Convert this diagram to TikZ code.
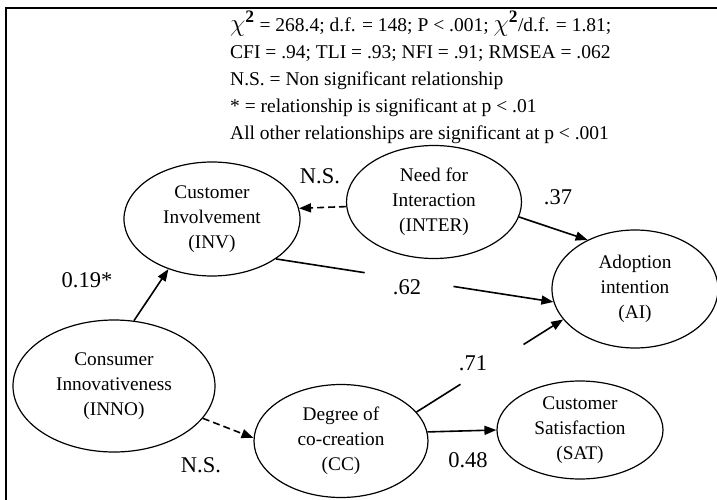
\documentclass[tikz,border=0pt]{standalone}
\usepackage{fontspec}
\setmainfont{Liberation Serif}
\usetikzlibrary{arrows.meta,positioning,shapes.geometric}

\newcommand{\chisq}{{\fontsize{25}{27}\selectfont$\chi^{\mathbf{2}}$}}

\begin{document}
\begin{tikzpicture}[
  x=1pt, y=-1pt,
  latent/.style={draw, ellipse, line width=1.2pt, inner sep=0pt, align=center,
    font=\fontsize{19.3}{25}\selectfont},
  lbl/.style={inner sep=0pt, font=\fontsize{22.5}{26}\selectfont},
  link/.style={line width=1.6pt},
  nsig/.style={dash pattern=on 7pt off 4pt},
  >={Triangle[length=12pt,width=9pt]}
]
  \useasboundingbox (0,0) rectangle (717,500);
  \draw[line width=1.5pt] (6,500) -- (6,8) -- (717,8);

  \node[anchor=north west, align=left, inner sep=0pt,
    font=\fontsize{19.5}{27}\selectfont] (fit) at (230,11)
    {\chisq{} = 268.4; d.f. = 148; P < .001; \chisq/d.f. = 1.81;\\
     CFI = .94; TLI = .93; NFI = .91; RMSEA = .062\\
     N.S. = Non significant relationship\\
     * = relationship is significant at p < .01\\
     All other relationships are significant at p < .001};

  % constructs
  \node[latent, minimum width=176pt, minimum height=114pt] (inv) at (212,219) {Customer\\Involvement\\(INV)};
  \node[latent, minimum width=175pt, minimum height=113pt] (inter) at (434,202) {Need for\\Interaction\\(INTER)};
  \node[latent, minimum width=166pt, minimum height=118pt] (ai) at (635,289) {Adoption\\intention\\(AI)};
  \node[latent, minimum width=202pt, minimum height=132pt] (inno) at (114,386) {Consumer\\Innovativeness\\(INNO)};
  \node[latent, minimum width=174pt, minimum height=113pt] (cc) at (341,441) {Degree of\\co-creation\\(CC)};
  \node[latent, minimum width=166pt, minimum height=98pt] (sat) at (580,430) {Customer\\Satisfaction\\(SAT)};

  % paths
  \draw[link,->] (inno.73) -- (inv.229);
  \draw[link,nsig,->] (inter.183) -- (inv.7);
  \draw[link,->] (inter.350) -- (ai.134);
  \path (inv.328) -- (ai.189) coordinate[pos=0.32] (g1) coordinate[pos=0.64] (g2);
  \draw[link] (inv.328) -- (g1);
  \draw[link,->] (g2) -- (ai.189);
  \path (cc.21) -- (ai.203) coordinate[pos=0.3] (g3) coordinate[pos=0.73] (g4);
  \draw[link] (cc.21) -- (g3);
  \draw[link,->] (g4) -- (ai.203);
  \draw[link,nsig,->] (inno.340) -- (cc.178);
  \draw[link,->] (cc.6) -- (sat.west);

  % estimates
  \node[lbl] (b1) at (87,280) {0.19*};
  \node[lbl] (b2) at (320,176) {N.S.};
  \node[lbl] (b3) at (558,197) {.37};
  \node[lbl] (b4) at (407,287) {.62};
  \node[lbl] (b5) at (473,363) {.71};
  \node[lbl] (b6) at (201,465) {N.S.};
  \node[lbl] (b7) at (468,460) {0.48};
\end{tikzpicture}
\end{document}
